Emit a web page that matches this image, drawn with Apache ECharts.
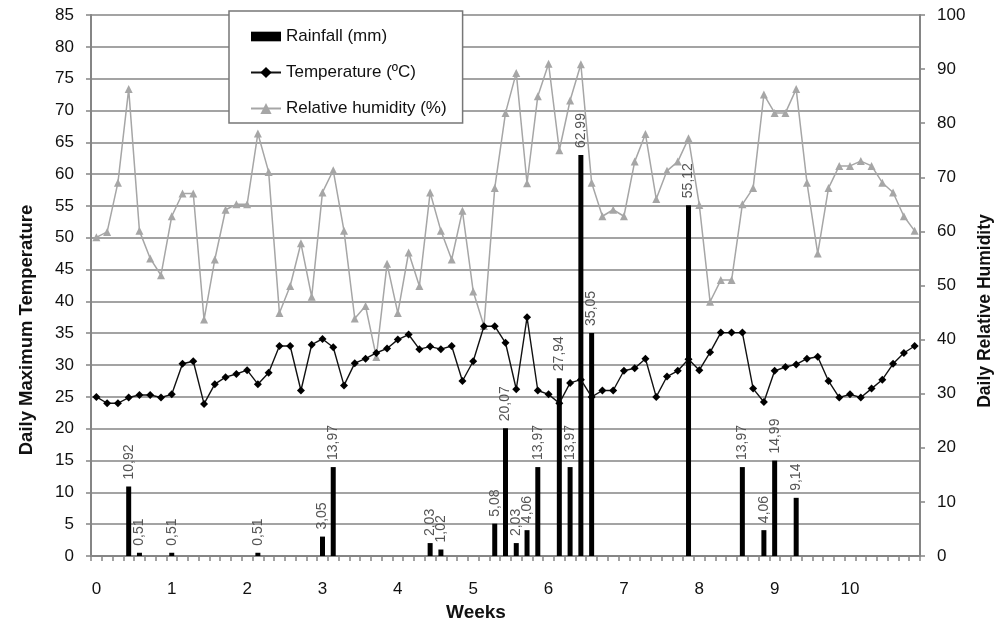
<!DOCTYPE html>
<html>
<head>
<meta charset="utf-8">
<script src="https://cdn.jsdelivr.net/npm/echarts@6/dist/echarts.min.js"></script>
<style>
  html, body { margin: 0; padding: 0; background: #fff; }
  #myChart { width: 1003px; height: 621px; }
</style>
</head>
<body>
<div id="myChart"></div>
<script>
let myChart = echarts.init(document.getElementById('myChart'));

// one category per day, 11 weeks
const days = Array.from({ length: 77 }, (_, i) => i);

const temperature = [
  25.0, 24.0, 24.0, 24.9, 25.3, 25.3, 24.9,
  25.4, 30.2, 30.6, 23.9, 27.0, 28.1, 28.6,
  29.2, 27.0, 28.8, 33.0, 33.0, 26.0, 33.2,
  34.1, 32.8, 26.8, 30.3, 31.0, 31.9, 32.6,
  34.0, 34.8, 32.5, 32.9, 32.5, 33.0, 27.5,
  30.6, 36.1, 36.1, 33.5, 26.2, 37.5, 26.0,
  25.4, 24.0, 27.2, 27.7, 25.0, 26.0, 26.0,
  29.1, 29.5, 31.0, 25.0, 28.2, 29.1, 30.9,
  29.2, 32.0, 35.1, 35.1, 35.1, 26.3, 24.2,
  29.1, 29.7, 30.1, 31.0, 31.3, 27.5, 24.9,
  25.4, 24.9, 26.3, 27.7, 30.2, 31.9, 33.0,
];

const humidity = [
  58.9, 59.9, 69.0, 86.3, 60.1, 55.0, 51.9,
  62.8, 67.0, 67.0, 43.7, 54.8, 64.0, 65.0,
  65.0, 78.1, 71.0, 44.9, 49.9, 57.8, 47.9,
  67.2, 71.3, 60.1, 43.9, 46.2, 36.8, 54.0,
  44.9, 56.1, 49.9, 67.2, 60.1, 54.8, 63.8,
  48.9, 42.5, 68.0, 81.9, 89.3, 68.9, 85.0,
  91.0, 75.0, 84.2, 90.9, 69.0, 62.8, 64.0,
  62.8, 72.9, 78.0, 66.0, 71.2, 72.9, 77.2,
  64.9, 47.0, 51.0, 51.0, 65.0, 68.0, 85.3,
  81.9, 81.9, 86.3, 69.0, 55.9, 68.0, 72.1,
  72.1, 73.0, 72.1, 69.0, 67.2, 62.8, 60.1,
];

// rainy days only (day index -> mm)
const rainDays = [3, 4, 7, 15, 21, 22, 31, 32, 37, 38, 39, 40, 41, 43, 44, 45, 46, 55, 60, 62, 63, 65];
const rainValues = [10.92, 0.51, 0.51, 0.51, 3.05, 13.97, 2.03, 1.02, 5.08, 20.07, 2.03, 4.06, 13.97, 27.94, 13.97, 62.99, 35.05, 55.12, 13.97, 4.06, 14.99, 9.14];

const rainfall = days.map(function (d) {
  let k = rainDays.indexOf(d);
  return k >= 0 ? rainValues[k] : '-';
});

const axisGray = '#858585';
const font = 'Liberation Sans, Arial, sans-serif';

let myChartOption = {
  backgroundColor: '#fff',
  animation: false,
  textStyle: { fontFamily: font },
  grid: {
    left: 91,
    right: 83,
    top: 15,
    bottom: 65,
    containLabel: false,
    outerBoundsMode: 'none',
  },
  legend: {
    orient: 'vertical',
    left: 229,
    top: 11,
    padding: [17, 16, 6, 21],
    itemGap: 19,
    itemWidth: 30,
    itemHeight: 14,
    backgroundColor: '#fff',
    borderColor: '#777',
    borderWidth: 1.5,
    textStyle: { fontSize: 17, color: '#111', fontFamily: font },
    data: [
      { name: 'Rainfall (mm)', icon: 'path://M0,0H28V9H0Z', itemStyle: { color: '#000' } },
      { name: 'Temperature (ºC)' },
      { name: 'Relative humidity (%)' },
    ],
  },
  xAxis: {
    type: 'category',
    data: days,
    boundaryGap: true,
    name: 'Weeks',
    nameLocation: 'middle',
    nameGap: 38,
    nameTextStyle: { fontSize: 19, fontWeight: 'bold', color: '#111', padding: [0, 59, 0, 0] },
    axisLine: { lineStyle: { color: axisGray, width: 2 } },
    axisTick: { show: true, interval: 0, length: 5, lineStyle: { color: axisGray, width: 1.5 } },
    axisLabel: {
      interval: function (index) {
        return index % 7 === 0;
      },
      formatter: function (value) {
        return String(value / 7);
      },
      margin: 25,
      fontSize: 17,
      color: '#111',
    },
    splitLine: { show: false },
  },
  yAxis: [
    {
      type: 'value',
      min: 0,
      max: 85,
      interval: 5,
      name: 'Daily Maximum Temperature',
      nameLocation: 'middle',
      nameGap: 55,
      nameTextStyle: { fontSize: 18.5, fontWeight: 'bold', color: '#111', padding: [0, 89, 0, 0] },
      axisLine: { show: true, lineStyle: { color: axisGray, width: 2 } },
      axisTick: { show: true, length: 5, lineStyle: { color: axisGray, width: 1.5 } },
      axisLabel: { margin: 17, fontSize: 17, color: '#111' },
      splitLine: { show: true, lineStyle: { color: axisGray, width: 1.7 } },
    },
    {
      type: 'value',
      min: 0,
      max: 100,
      interval: 10,
      name: 'Daily Relative Humidity',
      nameLocation: 'middle',
      nameGap: 53,
      nameTextStyle: { fontSize: 17.5, fontWeight: 'bold', color: '#111', padding: [0, 51, 0, 0] },
      axisLine: { show: true, lineStyle: { color: axisGray, width: 2 } },
      axisTick: { show: true, length: 5, lineStyle: { color: axisGray, width: 1.5 } },
      axisLabel: { margin: 17, fontSize: 17, color: '#111' },
      splitLine: { show: false },
    },
  ],
  series: [
    {
      name: 'Rainfall (mm)',
      type: 'bar',
      yAxisIndex: 0,
      barWidth: 5,
      itemStyle: { color: '#000' },
      label: {
        show: true,
        position: 'top',
        rotate: 90,
        align: 'left',
        verticalAlign: 'middle',
        distance: 7,
        fontSize: 14,
        color: '#555',
        formatter: function (p) {
          return p.value.toFixed(2).replace('.', ',');
        },
      },
      data: rainfall,
      z: 1,
    },
    {
      name: 'Temperature (ºC)',
      type: 'line',
      yAxisIndex: 0,
      symbol: 'diamond',
      symbolSize: 8,
      showAllSymbol: true,
      lineStyle: { color: '#111', width: 1.4 },
      itemStyle: { color: '#000' },
      data: temperature,
      z: 3,
    },
    {
      name: 'Relative humidity (%)',
      type: 'line',
      yAxisIndex: 1,
      symbol: 'triangle',
      symbolSize: 8,
      showAllSymbol: true,
      lineStyle: { color: '#a6a6a6', width: 1.5 },
      itemStyle: { color: '#a6a6a6' },
      data: humidity,
      z: 2,
    },
  ],
};

myChart.setOption(myChartOption);
</script>
</body>
</html>
